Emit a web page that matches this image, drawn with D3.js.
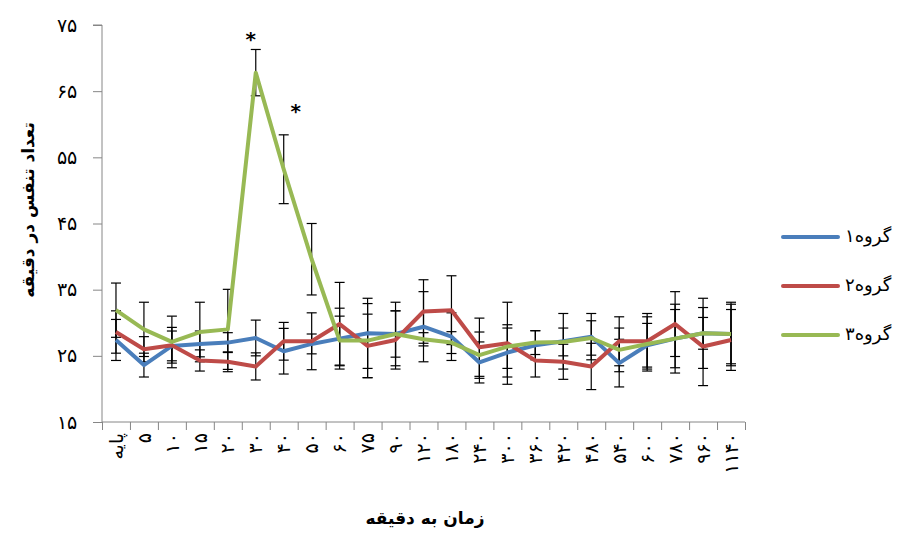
<!DOCTYPE html>
<html>
<head>
<meta charset="utf-8">
<script src="https://cdn.jsdelivr.net/npm/d3@7"></script>
<style>
  body { margin: 0; background: #fff; }
  svg { display: block; font-family: "DejaVu Sans", sans-serif; }
</style>
</head>
<body>
<div id="chart"></div>
<script>
// time points (minutes), Persian digits as on the original
const categories = ['پایه', '۵', '۱۰', '۱۵', '۲۰', '۳۰', '۴۰', '۵۰', '۶۰', '۷۵', '۹۰', '۱۲۰', '۱۸۰',
  '۲۴۰', '۳۰۰', '۳۶۰', '۴۲۰', '۴۸۰', '۵۴۰', '۶۰۰', '۷۸۰', '۹۶۰', '۱۱۴۰']

const group1 = [27.4, 23.6, 26.5, 26.8, 27.0, 27.7, 25.7, 26.8, 27.6, 28.4, 28.3, 29.4, 27.9,
  24.0, 25.5, 26.6, 27.2, 27.9, 23.9, 26.6, 27.6, 28.4, 28.3]
const group2 = [28.6, 26.0, 26.6, 24.3, 24.1, 23.4, 27.2, 27.2, 29.8, 26.5, 27.4, 31.7, 31.9,
  26.3, 26.9, 24.3, 24.1, 23.4, 27.2, 27.2, 29.8, 26.4, 27.4]
const group3 = [31.9, 29.0, 27.1, 28.6, 29.0, 67.8, 53.2, 39.6, 27.3, 27.3, 28.3, 27.5, 27.0,
  25.1, 26.4, 27.0, 27.1, 27.7, 25.9, 26.8, 27.6, 28.4, 28.3]

// error bar half-widths
const err1 = [3.1, 1.8, 2.25, 1.95, 1.5, 2.7, 3.45, 1.5, 4.6, 5.3, 4.8, 5.3, 3.6,
  3.1, 3.7, 2.2, 4.2, 3.5, 3.6, 3.3, 5.2, 5.3, 4.8]
const err2 = [3.2, 1.9, 2.7, 1.6, 1.5, 2.05, 2.85, 4.3, 6.3, 4.8, 4.4, 4.8, 5.2,
  4.4, 6.2, 2.5, 2.65, 3.5, 3.7, 4.2, 4.9, 5.9, 4.6]
const err3 = [4.1, 4.1, 3.9, 4.5, 6.05, 3.5, 5.2, 5.4, 3.7, 5.6, 3.5, 1.0, 1.65,
  3.5, 3.3, 1.8, 2.1, 2.6, 3.3, 4.1, 4.4, 2.4, 4.5]

const seriesNames = ['گروه۱', 'گروه۲', 'گروه۳']
const yTicks = [15, 25, 35, 45, 55, 65, 75]
const yTickLabels = ['۱۵', '۲۵', '۳۵', '۴۵', '۵۵', '۶۵', '۷۵']
const starIdx = [5, 6]   // significant points on group 3

const width = 903
const height = 536
const plot = {left: 102, right: 745, top: 25, bottom: 422}
const COLORS = ['#4A7EBB', '#BE4B48', '#98B954']
const AXIS = '#868686'

const x = d3.scaleBand().domain(categories).range([plot.left, plot.right])
const xi = d3.scaleLinear().domain([0, categories.length]).range([plot.left, plot.right])
const y = d3.scaleLinear().domain([15, 75]).range([plot.bottom, plot.top])

const series = [
  {name: seriesNames[0], values: group1, err: err1, color: COLORS[0]},
  {name: seriesNames[1], values: group2, err: err2, color: COLORS[1]},
  {name: seriesNames[2], values: group3, err: err3, color: COLORS[2]}
]

const svg = d3.select('#chart').append('svg')
  .attr('width', width).attr('height', height)

// y axis
svg.append('g')
  .attr('transform', `translate(${plot.left},0)`)
  .call(d3.axisLeft(y).tickValues(yTicks).tickFormat((d, i) => yTickLabels[i]).tickSize(9).tickPadding(16))
  .call(g => {
    g.select('.domain').attr('stroke', AXIS).attr('d', `M-9,${plot.top}H0V${plot.bottom}`)
    g.selectAll('line').attr('stroke', AXIS)
    g.selectAll('text').attr('font-size', 19).attr('fill', '#000')
  })

// x axis: ticks between categories
svg.append('g')
  .attr('transform', `translate(0,${plot.bottom})`)
  .call(d3.axisBottom(xi).tickValues(d3.range(categories.length + 1)).tickFormat('').tickSize(8))
  .call(g => {
    g.select('.domain').attr('stroke', AXIS).attr('d', `M${plot.left},0H${plot.right}`)
    g.selectAll('line').attr('stroke', AXIS)
  })

svg.append('g')
  .selectAll('text')
  .data(categories)
  .enter()
  .append('text')
  .attr('transform', d => `translate(${x(d) + x.bandwidth() / 2},${plot.bottom + 11}) rotate(-90)`)
  .attr('dy', '0.35em')
  .attr('text-anchor', 'end')
  .attr('font-size', 19)
  .text(d => d)

// error bars
const cap = 5
series.forEach(s => {
  const g = svg.append('g').attr('stroke', '#000').attr('stroke-width', 1.2)
  s.values.forEach((v, i) => {
    const cx = x(categories[i]) + x.bandwidth() / 2
    const y1 = y(v + s.err[i])
    const y2 = y(v - s.err[i])
    g.append('line').attr('x1', cx).attr('x2', cx).attr('y1', y1).attr('y2', y2)
    g.append('line').attr('x1', cx - cap).attr('x2', cx + cap).attr('y1', y1).attr('y2', y1)
    g.append('line').attr('x1', cx - cap).attr('x2', cx + cap).attr('y1', y2).attr('y2', y2)
  })
})

// lines
const line = d3.line()
  .x((d, i) => x(categories[i]) + x.bandwidth() / 2)
  .y(d => y(d))

series.forEach(s => {
  svg.append('path')
    .attr('d', line(s.values))
    .attr('fill', 'none')
    .attr('stroke', s.color)
    .attr('stroke-width', 4)
    .attr('stroke-linejoin', 'round')
})

// significance stars
const starOffset = [[-5, -3], [12, -17]]
starIdx.forEach((i, k) => {
  svg.append('text')
    .attr('x', x(categories[i]) + x.bandwidth() / 2 + starOffset[k][0])
    .attr('y', y(group3[i] + err3[i]) + starOffset[k][1])
    .attr('text-anchor', 'middle')
    .attr('font-size', 20)
    .attr('font-weight', 'bold')
    .text('*')
})

// legend
const legend = svg.append('g')
  .selectAll('g')
  .data(series)
  .enter()
  .append('g')
  .attr('transform', (d, i) => `translate(783,${237 + i * 49})`)

legend.append('line')
  .attr('x1', 0).attr('x2', 55)
  .attr('stroke', d => d.color).attr('stroke-width', 4).attr('stroke-linecap', 'round')

legend.append('text')
  .attr('x', 62).attr('dy', '0.3em')
  .attr('font-size', 18)
  .text(d => d.name)

// axis titles
svg.append('text')
  .attr('transform', 'translate(28,210) rotate(-90)')
  .attr('text-anchor', 'middle')
  .attr('dy', '0.35em')
  .attr('font-size', 17)
  .attr('font-weight', 'bold')
  .text('تعداد تنفس در دقیقه')

svg.append('text')
  .attr('x', 425).attr('y', 524)
  .attr('text-anchor', 'middle')
  .attr('font-size', 17)
  .attr('font-weight', 'bold')
  .text('زمان به دقیقه')
</script>
</body>
</html>
